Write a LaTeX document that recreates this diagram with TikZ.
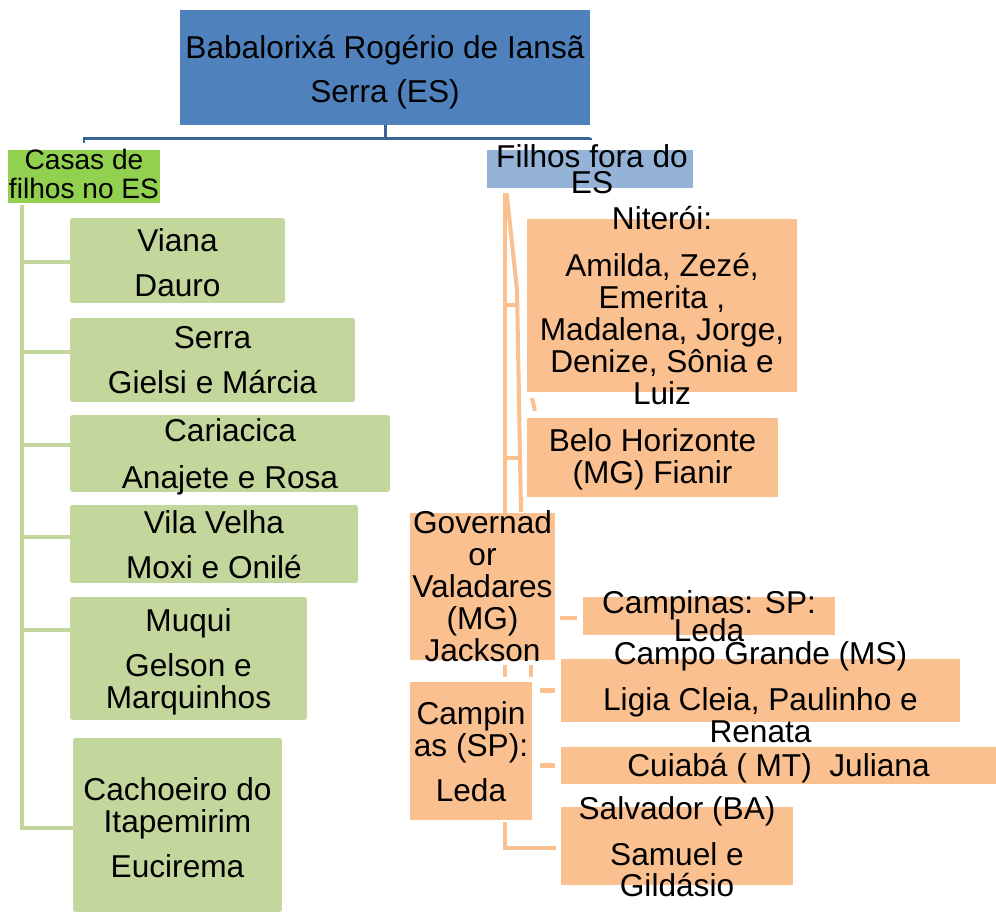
\documentclass[tikz,border=0pt]{standalone}
\usepackage{fontspec}
\setmainfont{Liberation Sans}
\usetikzlibrary{calc}
\definecolor{rootblue}{HTML}{4F81BD}
\definecolor{lightblue}{HTML}{95B3D7}
\definecolor{brightgreen}{HTML}{92D050}
\definecolor{palegreen}{HTML}{C3D69B}
\definecolor{paleorange}{HTML}{FAC090}
\definecolor{darkblue}{HTML}{3B6496}
\begin{document}
\begin{tikzpicture}[x=0.02cm,y=-0.02cm,
  box/.style={rectangle,inner sep=0pt,draw=none},
  rootbox/.style={box,fill=rootblue},
  casbox/.style={box,fill=brightgreen},
  filbox/.style={box,fill=lightblue},
  gbox/.style={box,fill=palegreen,rounded corners=0.05cm},
  obox/.style={box,fill=paleorange},
  txt/.style={anchor=base,align=center,inner sep=0pt,font=\fontsize{18}{18.2}\selectfont},
  bline/.style={draw=darkblue,line width=1.7pt},
  gline/.style={draw=palegreen,line width=2.3pt},
  oline/.style={draw=paleorange,line width=2.3pt}]
\useasboundingbox (0,0) rectangle (996,912);

% boxes
\node[rootbox,minimum width=8.2cm,minimum height=2.3cm] (root) at (385,67.5) {};
\node[casbox,minimum width=3.04cm,minimum height=1.06cm] (casas) at (84,176.5) {};
\node[filbox,minimum width=4.12cm,minimum height=0.76cm] (filhos) at (590,169) {};

\node[gbox,minimum width=4.3cm,minimum height=1.7cm] (g1) at (177.5,260.5) {};
\node[gbox,minimum width=5.7cm,minimum height=1.68cm] (g2) at (212.5,360) {};
\node[gbox,minimum width=6.4cm,minimum height=1.54cm] (g3) at (230,453.5) {};
\node[gbox,minimum width=5.76cm,minimum height=1.56cm] (g4) at (214,544) {};
\node[gbox,minimum width=4.74cm,minimum height=2.46cm] (g5) at (188.5,658.5) {};
\node[gbox,minimum width=4.18cm,minimum height=3.48cm] (g6) at (177.5,825) {};

\node[obox,minimum width=5.4cm,minimum height=3.46cm] (nit) at (662,305.5) {};
\node[obox,minimum width=5.02cm,minimum height=1.58cm] (bh) at (652.5,457.5) {};
\node[obox,minimum width=2.9cm,minimum height=2.94cm] (gov) at (482.5,586.5) {};
\node[obox,minimum width=2.44cm,minimum height=2.76cm] (camp) at (471,751) {};
\node[obox,minimum width=5.04cm,minimum height=0.76cm] (cpsp) at (709,616) {};
\node[obox,minimum width=7.98cm,minimum height=1.26cm] (cg) at (760.5,690.5) {};
\node[obox,minimum width=8.7cm,minimum height=0.74cm] (cui) at (778.5,765.5) {};
\node[obox,minimum width=4.64cm,minimum height=1.56cm] (sal) at (677,846) {};

% texts (anchored at the baseline of the last line)
\node[txt] (troot) at (385,103) {Babalorixá Rogério de Iansã\\[7.4pt]Serra (ES)};
\node[txt,font=\fontsize{16}{16}\selectfont] (tcasas) at (84,198) {Casas de\\filhos no ES};
\node[txt] (tfilhos) at (592,194) {Filhos fora do\\[-3.4pt]ES};
\node[txt] (tg1) at (177.5,296) {Viana\\[7.4pt]Dauro};
\node[txt] (tg2) at (212.5,393) {Serra\\[7.4pt]Gielsi e Márcia};
\node[txt] (tg3) at (230,488) {Cariacica\\[8.5pt]Anajete e Rosa};
\node[txt] (tg4) at (214,578) {Vila Velha\\[7.4pt]Moxi e Onilé};
\node[txt] (tg5) at (188.5,708) {Muqui\\[7.4pt]Gelson e\\Marquinhos};
\node[txt] (tg6) at (177.5,877) {Cachoeiro do\\Itapemirim\\[7.4pt]Eucirema};
\node[txt] (tnit) at (662,404) {Niterói:\\[8.5pt]Amilda, Zezé,\\Emerita ,\\Madalena, Jorge,\\Denize, Sônia e\\Luiz};
\node[txt] (tbh) at (652.5,483) {Belo Horizonte\\(MG) Fianir};
\node[txt] (tgov) at (482.5,661) {Governad\\or\\Valadares\\(MG)\\Jackson};
\node[txt] (tcamp) at (471,801) {Campin\\as (SP):\\[7.4pt]Leda};
\node[txt] (tcpsp) at (709,641) {Campinas: SP:\\[-2.8pt]Leda};
\node[txt] (tcg) at (760.5,742) {Campo Grande (MS)\\[8pt]Ligia Cleia, Paulinho e\\Renata};
\node[txt] (tcui) at (778.5,776) {Cuiabá ( MT)\ \ Juliana};
\node[txt] (tsal) at (677,896) {Salvador (BA)\\[8.5pt]Samuel e\\[-1.1pt]Gildásio};

% top bracket
\draw[bline] (root.south) -- ++(0,13) -| ([yshift=0.14cm]casas.north);
\draw[bline] (root.south) -- ++(0,13) -| ([yshift=0.24cm]filhos.north);

% green tree
\coordinate (trunk) at (22,205);
\draw[gline] ([yshift=-0.03cm]g1.west) -| (trunk);
\draw[gline] ([yshift=0.16cm]g2.west) -| (trunk);
\draw[gline] ([yshift=0.17cm]g3.west) -| (trunk);
\draw[gline] ([yshift=0.14cm]g4.west) -| (trunk);
\draw[gline] ([yshift=0.57cm]g5.west) -| (trunk);
\draw[gline] ([yshift=-0.06cm]g6.west) -| (trunk);

% orange connectors
\coordinate (fs) at ([xshift=0.36cm,yshift=-0.1cm]filhos.south west);
\coordinate (k1) at (517,290);
\coordinate (k2) at (521,512);
\draw[oline] (fs) -- (fs |- gov.north);
\draw[oline] ([xshift=0.04cm]fs) -- (k1) -- (k2);
\draw[oline] (fs |- 0,305) -- (518,305);
\draw[oline] (fs |- 0,458) -- (520,458);
\coordinate (d1) at (532,398);
\coordinate (d2) at (535,411);
\draw[oline] (d1) -- (d2);
\draw[oline] ([xshift=-0.12cm,yshift=-0.04cm]cpsp.west) -- ([xshift=-0.46cm,yshift=-0.04cm]cpsp.west);
\draw[oline] ([xshift=0.45cm,yshift=-0.1cm]gov.south) -- ([xshift=0.45cm,yshift=-0.34cm]gov.south);
\draw[oline] ([xshift=0.97cm,yshift=-0.1cm]gov.south) -- ([xshift=0.97cm,yshift=-0.34cm]gov.south);
\draw[oline] ([xshift=-0.12cm]cg.west) -- ([xshift=-0.42cm]cg.west);
\draw[oline] ([xshift=-0.12cm]cui.west) -- ([xshift=-0.42cm]cui.west);
\draw[oline] ([xshift=-0.1cm,yshift=-0.04cm]sal.west) -| ([xshift=0.68cm,yshift=-0.04cm]camp.south);
\end{tikzpicture}
\end{document}
